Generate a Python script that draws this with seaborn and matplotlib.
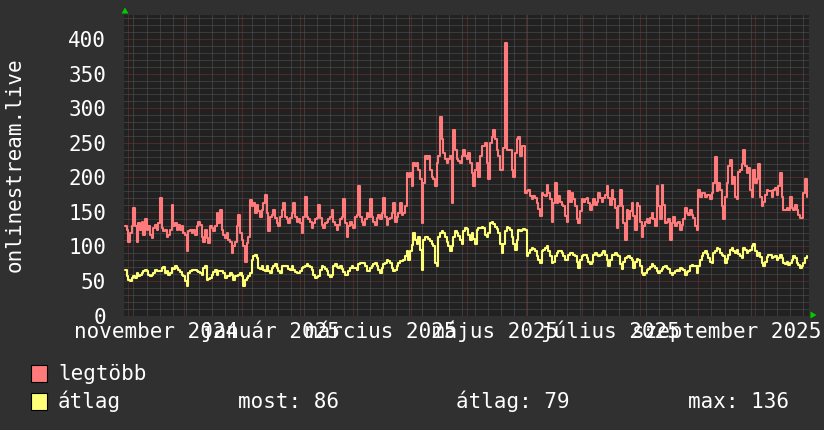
import matplotlib
matplotlib.use("Agg")
import pandas as pd
import matplotlib.pyplot as plt
import matplotlib.dates as mdates
from matplotlib.ticker import MultipleLocator, NullFormatter
from matplotlib.patches import Rectangle, Polygon
from matplotlib.transforms import blended_transform_factory
import seaborn as sns

# values, left to right (about one sample per 0.9 day)
legtobb = [
    129, 124, 107, 119, 129, 155, 129, 107, 134, 124, 136, 117, 139, 124, 129, 117, 112, 126, 131, 124,
    134, 170, 126, 122, 124, 114, 117, 124, 160, 129, 134, 124, 131, 124, 129, 119, 117, 93, 122, 124,
    119, 124, 117, 129, 136, 131, 114, 107, 124, 112, 105, 129, 126, 122, 129, 148, 134, 153, 124, 117,
    112, 119, 110, 107, 90, 100, 107, 129, 146, 119, 110, 100, 78, 105, 114, 167, 158, 163, 148, 160,
    151, 143,
    153, 163, 175, 148, 122, 143, 146, 153, 141, 134, 129, 143, 153, 163, 143, 139, 134, 141, 148, 163,
    143, 136, 139, 134, 120, 143, 172, 143, 139, 136, 127, 134, 139, 141, 160, 141, 131, 127, 134, 136,
    139, 143, 153, 136, 131, 124, 131, 139, 143, 168, 134, 113, 129, 136, 131, 127, 143, 146, 187, 143,
    136, 131, 139, 148, 143, 168, 143, 136, 131, 141, 146, 139, 148, 170, 143, 131, 139, 141, 148, 163,
    136, 143, 148, 163, 146,
    148, 158, 207, 201, 207, 187, 221, 216, 221, 211, 197, 134, 192, 231, 226, 231, 211, 201, 197, 187,
    221, 231, 288, 255, 235, 226, 221, 226, 231, 163, 269, 240, 226, 223, 221, 231, 240, 231, 226, 235,
    221, 207, 187, 211, 221, 201, 231, 245, 245, 250, 221, 197, 250, 259, 269, 255, 240, 231, 211, 211,
    242, 394, 240, 240, 240, 211, 201, 235, 255, 259, 231, 245, 245,
    177, 180, 182, 173, 168, 173, 170, 163, 154, 144, 177, 175, 173, 189, 177, 168, 136, 163, 192, 163,
    173, 165, 160, 158, 144, 136, 180, 165, 177, 168, 158, 139, 134, 151, 168, 165, 168, 170, 163, 153,
    160, 168, 160, 165, 177, 170, 165, 170, 175, 187, 170, 160, 182, 168, 156, 127, 158, 182, 158, 134,
    110, 153, 139, 151, 163, 144, 124, 163, 158, 136, 114, 129, 136, 139, 134, 141, 148, 139, 129, 187,
    158, 139, 189, 160, 134, 136, 139, 110,
    134, 143, 129, 134, 136, 124, 131, 139, 156, 148, 146, 153, 146, 141, 129, 124, 182, 172, 177, 177,
    172, 175, 175, 168, 177, 192, 230, 180, 192, 182, 158, 139, 172, 192, 216, 225, 190, 201, 172, 168,
    208, 211, 220, 240, 216, 206, 213, 182, 172, 211, 192, 197, 220, 172, 158, 165, 175, 182, 180, 180,
    172, 182, 185, 175, 187, 206, 172, 153, 153, 156, 153, 172, 156, 153, 160, 153, 146, 141, 141, 177,
    197, 172,
]

atlag = [
    66, 57, 52, 50, 55, 57, 55, 62, 57, 59, 62, 64, 66, 64, 59, 57, 59, 62, 66, 65,
    64, 64, 69, 70, 62, 64, 59, 62, 69, 67, 71, 69, 66, 63, 59, 57, 50, 42, 62, 64,
    66, 66, 66, 64, 63, 62, 59, 69, 71, 52, 53, 55, 59, 63, 66, 59, 64, 64, 64, 62,
    55, 57, 57, 62, 59, 52, 57, 57, 59, 61, 57, 42, 52, 55, 57, 62, 81, 86, 88, 83,
    69, 67,
    71, 66, 64, 71, 64, 62, 69, 72, 74, 69, 64, 62, 71, 72, 71, 71, 67, 66, 71, 66,
    63, 62, 62, 65, 69, 70, 72, 74, 72, 70, 66, 59, 54, 56, 57, 66, 71, 70, 67, 64,
    59, 56, 59, 71, 74, 70, 69, 71, 67, 63, 59, 59, 65, 69, 71, 69, 69, 66, 74, 76,
    76, 76, 71, 64, 64, 69, 72, 75, 76, 71, 66, 62, 69, 74, 76, 80, 79, 76, 69, 64,
    66, 71, 76, 79, 79,
    81, 86, 93, 81, 93, 102, 119, 109, 104, 114, 95, 66, 109, 114, 113, 111, 108, 104, 100, 76,
    71, 114, 120, 122, 119, 114, 107, 100, 93, 100, 114, 122, 119, 115, 109, 104, 122, 126, 125, 116,
    109, 119, 111, 104, 124, 126, 127, 128, 126, 116, 114, 119, 134, 136, 132, 128, 125, 119, 104, 91,
    104, 122, 128, 127, 124, 114, 104, 95, 109, 124, 122, 124, 125,
    124, 86, 91, 95, 97, 96, 93, 86, 81, 76, 93, 95, 97, 100, 93, 86, 76, 78, 86, 91,
    93, 93, 90, 86, 81, 80, 88, 91, 90, 88, 86, 78, 69, 81, 86, 88, 87, 83, 78, 74,
    78, 88, 90, 88, 86, 88, 90, 93, 88, 81, 71, 81, 87, 88, 90, 88, 86, 74, 68, 78,
    83, 84, 86, 83, 80, 69, 78, 82, 81, 71, 62, 59, 62, 66, 68, 70, 74, 72, 69, 64,
    62, 64, 68, 70, 71, 69, 67, 62,
    59, 62, 65, 66, 64, 69, 67, 66, 59, 63, 64, 71, 73, 72, 71, 62, 71, 81, 86, 90,
    93, 89, 83, 78, 76, 90, 94, 98, 96, 91, 88, 86, 76, 82, 88, 95, 98, 93, 90, 95,
    89, 86, 83, 98, 95, 91, 93, 95, 101, 103, 93, 86, 90, 85, 76, 71, 78, 85, 87, 88,
    83, 85, 86, 80, 83, 88, 83, 76, 75, 78, 73, 76, 81, 86, 83, 76, 73, 69, 71, 76,
    83, 86,
]

first_sample = "2024-10-30 12:00"
last_sample = "2025-10-28 18:00"
view_start = "2024-10-30"
view_end = "2025-10-30"

label_months = ["2024-11-01", "2025-01-01", "2025-03-01", "2025-05-01", "2025-07-01", "2025-09-01"]
month_labels = ["november 2024", "január 2025", "március 2025", "május 2025", "július 2025", "szeptember 2025"]
y_ticks = [0, 50, 100, 150, 200, 250, 300, 350, 400]
y_title = "onlinestream.live"
series_names = ["legtöbb", "átlag"]
stat_texts = ["most: 86", "átlag: 79", "max: 136"]

BG = "#303030"
PLOT_BG = "#212121"
GRID = "#555555"
MGRID = "#7a3434"
RED = "#ff7b7b"
YELLOW = "#ffff77"
ARROW = "#00cc00"
W, H = 824, 430
FS = 15


def fx(px):
    return px / W


def fy(py):
    return 1 - py / H


sns.set_style("dark", {"axes.facecolor": PLOT_BG, "figure.facecolor": BG})
plt.rcParams["font.family"] = ["DejaVu Sans Mono", "DejaVu Sans"]

fig = plt.figure(figsize=(W / 100, H / 100), dpi=100, facecolor=BG)
ax = fig.add_axes([fx(124), fy(315.5), fx(809) - fx(124), (315.5 - 15) / H])
ax.set_facecolor(PLOT_BG)

df = pd.DataFrame({
    "ido": pd.date_range(first_sample, last_sample, periods=len(legtobb)),
    "legtobb": legtobb,
})
df2 = pd.DataFrame({
    "ido": pd.date_range(first_sample, last_sample, periods=len(atlag)),
    "atlag": atlag,
})

sns.lineplot(data=df, x="ido", y="legtobb", ax=ax, color=RED, linewidth=1.5,
             estimator=None, drawstyle="steps-post")
sns.lineplot(data=df2, x="ido", y="atlag", ax=ax, color=YELLOW, linewidth=1.5,
             estimator=None, drawstyle="steps-post")

ax.set_xlim(pd.Timestamp(view_start), pd.Timestamp(view_end))
ax.set_ylim(0, 435)
ax.set_xlabel("")
ax.set_ylabel("")

# grid: weeks / months on x, 10 / 50 on y
ax.xaxis.set_major_locator(mdates.MonthLocator())
ax.xaxis.set_minor_locator(mdates.WeekdayLocator(byweekday=mdates.MO))
ax.xaxis.set_major_formatter(NullFormatter())
ax.yaxis.set_minor_locator(MultipleLocator(10))
ax.set_yticks(y_ticks)
ax.set_yticklabels([str(v) for v in y_ticks])
ax.set_axisbelow(True)
ax.grid(which="minor", color=GRID, linestyle=(0, (1, 1)), linewidth=0.72)
ax.grid(which="major", color=MGRID, linestyle=(0, (1, 1)), linewidth=0.72)

ax.tick_params(axis="both", which="major", length=2, width=0.72, color=MGRID, direction="out")
ax.tick_params(axis="both", which="minor", length=2, width=0.72, color=GRID, direction="out")
ax.tick_params(axis="y", which="major", labelsize=FS, labelcolor="white", pad=10.8)
for s in ax.spines.values():
    s.set_visible(False)

# month labels centred half a month after the month start
trans = blended_transform_factory(ax.transData, fig.transFigure)
for m, lab in zip(label_months, month_labels):
    ax.text(pd.Timestamp(m) + pd.Timedelta(days=15), fy(338), lab, transform=trans,
            ha="center", va="baseline", color="white", fontsize=FS, clip_on=False)

fig.text(fx(21), fy(165), y_title, rotation=90, rotation_mode="anchor",
         ha="center", va="baseline", color="white", fontsize=FS)

# green axis arrows
fig.add_artist(Polygon([(fx(121.5), fy(13.5)), (fx(128.5), fy(13.5)), (fx(125), fy(7.5))],
                       closed=True, transform=fig.transFigure, color=ARROW, lw=0))
fig.add_artist(Polygon([(fx(810.5), fy(311.5)), (fx(810.5), fy(318.5)), (fx(816.5), fy(315))],
                       closed=True, transform=fig.transFigure, color=ARROW, lw=0))

# legend
for py, col, name in zip([365, 393], [RED, YELLOW], series_names):
    fig.add_artist(Rectangle((fx(31.5), fy(py + 16.5)), 16 / W, 16.5 / H,
                             transform=fig.transFigure, facecolor=col, edgecolor="black", lw=0.8))
    fig.text(fx(58), fy(py + 15), name, ha="left", va="baseline", color="white", fontsize=FS)

for px, txt in zip([238, 456, 688], stat_texts):
    fig.text(fx(px), fy(408), txt, ha="left", va="baseline", color="white", fontsize=FS)

fig.savefig("out.png", dpi=100, facecolor=BG)
